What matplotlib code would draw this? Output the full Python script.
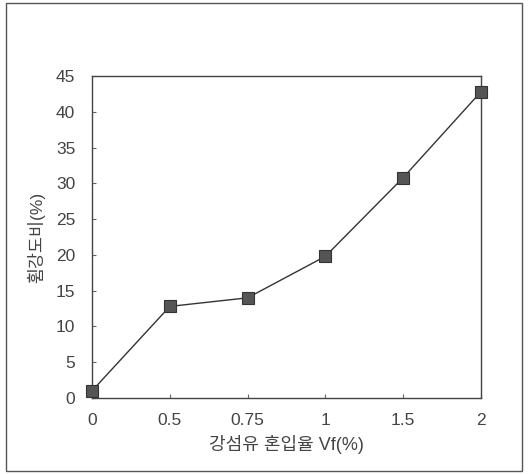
import matplotlib
matplotlib.use("Agg")
import matplotlib.pyplot as plt
from matplotlib.patches import Rectangle

plt.rcParams['font.family'] = ['Liberation Sans', 'Noto Sans CJK KR', 'DejaVu Sans']

categories = ["0", "0.5", "0.75", "1", "1.5", "2"]
values = [1.0, 12.8, 14.0, 19.8, 30.8, 42.8]
yticks = [0, 5, 10, 15, 20, 25, 30, 35, 40, 45]

W, H = 529, 474
fig = plt.figure(figsize=(W/100, H/100), dpi=100)
fig.patch.set_facecolor('white')
fig.patches.append(Rectangle((6/W, 1-471/H), (522-6)/W, (471-3)/H,
                             transform=fig.transFigure, fill=False,
                             edgecolor='#555555', linewidth=1.0))

ax = fig.add_axes([92/W, 1-398/H, (481-92)/W, (398-76)/H])
x = list(range(len(categories)))
ax.plot(x, values, color='#333333', linewidth=1.0, marker='s', markersize=8,
        markerfacecolor='#555555', markeredgecolor='#333333', markeredgewidth=0.8,
        clip_on=False, zorder=3)
ax.set_xlim(0, len(categories) - 1)
ax.set_ylim(0, 45)
ax.set_xticks(x)
ax.set_xticklabels(categories)
ax.set_yticks(yticks)
for s in ax.spines.values():
    s.set_color('#444444')
    s.set_linewidth(1.0)
ax.tick_params(direction='in', length=3, color='#666666', labelcolor='#444444',
               labelsize=12.5)
ax.tick_params(axis='x', pad=11)
ax.tick_params(axis='y', pad=12)
ax.set_xlabel('강섬유 혼입율 Vf(%)', fontsize=13, color='#444444', labelpad=5)
ax.set_ylabel('휨강도비(%)', fontsize=12.5, color='#444444', labelpad=8)

fig.savefig('out.png', dpi=100)
